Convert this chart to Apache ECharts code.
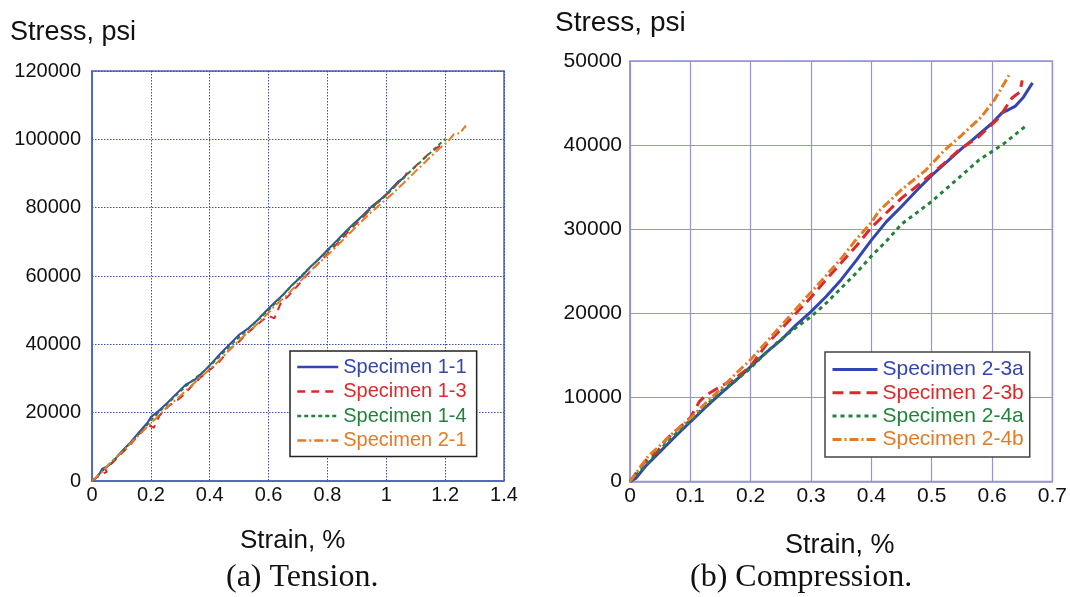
<!DOCTYPE html>
<html>
<head>
<meta charset="utf-8">
<script src="https://cdn.jsdelivr.net/npm/echarts@6/dist/echarts.min.js"></script>
<style>
html,body{margin:0;padding:0;background:#fff;}
#main{width:1070px;height:597px;}
</style>
</head>
<body>
<div id="main"></div>
<script>
// ---------- Tension (a) ----------
const tensionXTicks = [0, 0.2, 0.4, 0.6, 0.8, 1, 1.2, 1.4];
const tensionYTicks = [0, 20000, 40000, 60000, 80000, 100000, 120000];
const spec11 = [[0,0],[0.02,1300],[0.035,3600],[0.05,4100],[0.07,5500],[0.1,8600],[0.13,11200],[0.16,14300],[0.19,17200],[0.2,18700],[0.23,20800],[0.26,23200],[0.29,25800],[0.32,28300],[0.35,29700],[0.38,32100],[0.41,34800],[0.44,37600],[0.47,40200],[0.5,42800],[0.53,44600],[0.56,46900],[0.59,49600],[0.62,52200],[0.65,54600],[0.68,57400],[0.71,59700],[0.74,62500],[0.77,64900],[0.8,67600],[0.83,70200],[0.86,72800],[0.89,75400],[0.92,77700],[0.95,80300],[0.98,82400],[1.0,83900],[1.02,85800],[1.04,87600],[1.06,88700],[1.07,90200]];
const spec13 = [[0,0],[0.025,1600],[0.04,2300],[0.05,2600],[0.045,3600],[0.065,5000],[0.1,8000],[0.13,10600],[0.16,13600],[0.19,16500],[0.2,16000],[0.21,15600],[0.23,19200],[0.26,21900],[0.29,23600],[0.31,25100],[0.34,27900],[0.37,30400],[0.4,32500],[0.43,34600],[0.46,37800],[0.49,40300],[0.5,40800],[0.53,43500],[0.56,45600],[0.58,47100],[0.6,48300],[0.62,47600],[0.64,51800],[0.67,54400],[0.7,57300],[0.73,60300],[0.76,62900],[0.79,65600],[0.82,68300],[0.85,71000],[0.88,73800],[0.91,76300],[0.94,79000],[0.97,81500],[1.0,83800],[1.03,86300],[1.06,89000],[1.09,91400],[1.12,93800],[1.15,96200],[1.19,98600]];
const spec14 = [[0,0],[0.03,2500],[0.06,5000],[0.1,8400],[0.14,12000],[0.18,15600],[0.2,17800],[0.24,21200],[0.28,24600],[0.32,27800],[0.36,30700],[0.4,33600],[0.44,37000],[0.48,40500],[0.52,43600],[0.56,46800],[0.6,50000],[0.64,53600],[0.68,57300],[0.72,60800],[0.76,64100],[0.8,67300],[0.84,70600],[0.88,74300],[0.92,77600],[0.96,80600],[1.0,83600],[1.04,87200],[1.08,90500],[1.12,93700],[1.16,96900],[1.2,100100]];
const spec21 = [[0,0],[0.03,2300],[0.06,5100],[0.1,8300],[0.14,11800],[0.18,15200],[0.22,18600],[0.26,22000],[0.3,24900],[0.34,28100],[0.38,31200],[0.42,34200],[0.46,37700],[0.5,41200],[0.54,44300],[0.58,47400],[0.62,51200],[0.66,54200],[0.7,57800],[0.74,61300],[0.78,64500],[0.82,67700],[0.86,71200],[0.9,74600],[0.94,78000],[0.98,81000],[1.02,84000],[1.06,87300],[1.1,90700],[1.14,94000],[1.18,97300],[1.21,99400],[1.23,101500],[1.25,101800],[1.27,104000],[1.265,103000]];

// ---------- Compression (b) ----------
const compXTicks = [0, 0.1, 0.2, 0.3, 0.4, 0.5, 0.6, 0.7];
const compYTicks = [0, 10000, 20000, 30000, 40000, 50000];
const spec23a = [[0,0],[0.01,400],[0.025,1760],[0.047,3350],[0.07,5000],[0.1,7100],[0.125,8800],[0.151,10500],[0.175,12000],[0.2,13650],[0.225,15300],[0.25,16800],[0.275,18600],[0.3,20200],[0.325,22000],[0.35,24000],[0.375,26300],[0.4,28700],[0.425,30900],[0.45,32700],[0.475,34600],[0.5,36400],[0.525,38000],[0.55,39600],[0.567,40600],[0.6,42600],[0.616,43800],[0.638,44600],[0.652,45700],[0.667,47400]];
const spec23b = [[0,0],[0.015,1500],[0.03,2800],[0.045,3500],[0.06,5000],[0.08,6300],[0.1,7600],[0.115,9500],[0.125,10200],[0.15,11300],[0.175,12300],[0.2,13700],[0.225,16200],[0.25,18100],[0.275,20000],[0.3,21900],[0.325,24000],[0.35,26000],[0.375,28000],[0.4,30200],[0.42,31600],[0.45,33700],[0.484,35600],[0.52,37800],[0.545,39400],[0.578,41000],[0.611,43200],[0.633,45600],[0.646,46300],[0.65,47700]];
const spec24a = [[0,0],[0.02,1500],[0.05,3800],[0.075,5600],[0.1,7300],[0.125,9000],[0.15,10700],[0.175,12000],[0.2,13500],[0.225,15300],[0.25,16900],[0.275,18300],[0.3,19600],[0.325,21200],[0.35,23000],[0.375,24800],[0.4,26800],[0.425,28600],[0.45,30600],[0.5,33300],[0.54,35800],[0.578,38200],[0.62,40200],[0.658,42400]];
const spec24b = [[0,0],[0.015,1500],[0.03,3000],[0.05,4300],[0.075,6000],[0.1,7500],[0.125,9300],[0.15,11000],[0.175,12800],[0.2,14500],[0.225,16500],[0.25,18500],[0.275,20500],[0.3,22500],[0.325,24500],[0.35,26500],[0.375,28800],[0.4,30800],[0.413,32200],[0.45,34700],[0.49,37000],[0.52,39300],[0.55,41200],[0.583,43400],[0.605,45500],[0.628,48300]];

const namesA = ['Specimen 1-1','Specimen 1-3','Specimen 1-4','Specimen 2-1'];
const namesB = ['Specimen 2-3a','Specimen 2-3b','Specimen 2-4a','Specimen 2-4b'];

const BLUE = '#3346b0', RED = '#dc2a2c', GREEN = '#23823a', ORANGE = '#e27b27';
const SANS = '"Liberation Sans", Arial, sans-serif';
const SERIF = '"Liberation Serif", "Times New Roman", serif';

const chart = echarts.init(document.getElementById('main'), null, {renderer: 'canvas'});

function lineSeries(name, data, color, type, width, idx) {
  return {
    name: name, type: 'line', data: data, xAxisIndex: idx, yAxisIndex: idx,
    symbol: 'none', showSymbol: false, animation: false, smooth: false,
    lineStyle: {color: color, width: width, type: type},
    itemStyle: {color: color}
  };
}

const leftAxisColor = '#4f63bf';
const rightAxisColor = '#9494d6';

const option = {
  animation: false,
  backgroundColor: '#fff',
  textStyle: {fontFamily: SANS},
  grid: [
    {left: 92, top: 71, width: 412, height: 410, show: true, borderColor: leftAxisColor, borderWidth: 1.5, containLabel: false},
    {left: 630, top: 61, width: 424, height: 420.5, show: true, borderColor: rightAxisColor, borderWidth: 1.5, containLabel: false}
  ],
  xAxis: [
    {type: 'value', gridIndex: 0, min: tensionXTicks[0], max: tensionXTicks[tensionXTicks.length-1], interval: 0.2,
     axisLine: {show: true, lineStyle: {color: leftAxisColor, width: 1.5}}, axisTick: {show: false},
     axisLabel: {color: '#111', fontSize: 20, fontFamily: SANS, margin: 4, formatter: v => String(+v.toFixed(1))},
     splitLine: {show: true, lineStyle: {color: '#3a4db3', type: [1.5,1.5], width: 1}}},
    {type: 'value', gridIndex: 1, min: compXTicks[0], max: compXTicks[compXTicks.length-1], interval: 0.1,
     axisLine: {show: true, lineStyle: {color: rightAxisColor, width: 1.5}}, axisTick: {show: false},
     axisLabel: {color: '#111', fontSize: 21, fontFamily: SANS, margin: 4, formatter: v => String(+v.toFixed(1))},
     splitLine: {show: true, lineStyle: {color: rightAxisColor, type: 'solid', width: 1.2}}}
  ],
  yAxis: [
    {type: 'value', gridIndex: 0, min: tensionYTicks[0], max: tensionYTicks[tensionYTicks.length-1], interval: 20000,
     axisLine: {show: true, lineStyle: {color: leftAxisColor, width: 1.5}}, axisTick: {show: false},
     axisLabel: {color: '#111', fontSize: 20, fontFamily: SANS, margin: 11, formatter: v => String(Math.round(v))},
     splitLine: {show: true, lineStyle: {color: '#3a4db3', type: [1.5,1.5], width: 1}}},
    {type: 'value', gridIndex: 1, min: compYTicks[0], max: compYTicks[compYTicks.length-1], interval: 10000,
     axisLine: {show: true, lineStyle: {color: rightAxisColor, width: 1.5}}, axisTick: {show: false},
     axisLabel: {color: '#111', fontSize: 21, fontFamily: SANS, margin: 8, formatter: v => String(Math.round(v))},
     splitLine: {show: true, lineStyle: {color: rightAxisColor, type: 'solid', width: 1.2}}}
  ],
  legend: [
    {left: 290, top: 351, orient: 'vertical', backgroundColor: '#fff', borderColor: '#222', borderWidth: 1.5,
     padding: [6, 10, 6, 6], itemGap: 4.5, itemWidth: 41, itemHeight: 20, align: 'left',
     itemStyle: {opacity: 0}, lineStyle: {width: 2.5},
     textStyle: {fontSize: 20, fontFamily: SANS, lineHeight: 20},
     data: [
       {name: namesA[0], textStyle: {color: BLUE}},
       {name: namesA[1], textStyle: {color: RED}},
       {name: namesA[2], textStyle: {color: GREEN}},
       {name: namesA[3], textStyle: {color: ORANGE}}
     ]},
    {left: 825, top: 352, orient: 'vertical', backgroundColor: '#fff', borderColor: '#444', borderWidth: 1.5,
     padding: [7, 6, 7, 6], itemGap: 2.3, itemWidth: 45, itemHeight: 20, align: 'left',
     itemStyle: {opacity: 0}, lineStyle: {width: 3},
     textStyle: {fontSize: 21, fontFamily: SANS, lineHeight: 20},
     data: [
       {name: namesB[0], textStyle: {color: BLUE}},
       {name: namesB[1], textStyle: {color: RED}},
       {name: namesB[2], textStyle: {color: GREEN}},
       {name: namesB[3], textStyle: {color: ORANGE}}
     ]}
  ],
  series: [
    lineSeries(namesA[0], spec11, BLUE, 'solid', 2, 0),
    lineSeries(namesA[1], spec13, RED, [8, 6], 2, 0),
    lineSeries(namesA[2], spec14, GREEN, [4, 3], 2, 0),
    lineSeries(namesA[3], spec21, ORANGE, [9, 3, 2, 3], 2, 0),
    lineSeries(namesB[0], spec23a, BLUE, 'solid', 3, 1),
    lineSeries(namesB[1], spec23b, RED, [11, 6], 3, 1),
    lineSeries(namesB[2], spec24a, GREEN, [4, 4], 3, 1),
    lineSeries(namesB[3], spec24b, ORANGE, [9, 3, 2, 3], 3, 1)
  ],
  graphic: [
    {type: 'text', left: 10, top: 19, style: {text: 'Stress, psi', font: '27px ' + SANS, fill: '#111'}},
    {type: 'text', left: 555, top: 9, style: {text: 'Stress, psi', font: '28px ' + SANS, fill: '#111'}},
    {type: 'text', left: 240, top: 528, style: {text: 'Strain, %', font: '26px ' + SANS, fill: '#111'}},
    {type: 'text', left: 785, top: 532, style: {text: 'Strain, %', font: '27px ' + SANS, fill: '#111'}},
    {type: 'text', left: 226, top: 562, style: {text: '(a) Tension.', font: '32px ' + SERIF, fill: '#111'}},
    {type: 'text', left: 690, top: 562, style: {text: '(b) Compression.', font: '32px ' + SERIF, fill: '#111'}}
  ]
};
chart.setOption(option);
</script>
</body>
</html>
